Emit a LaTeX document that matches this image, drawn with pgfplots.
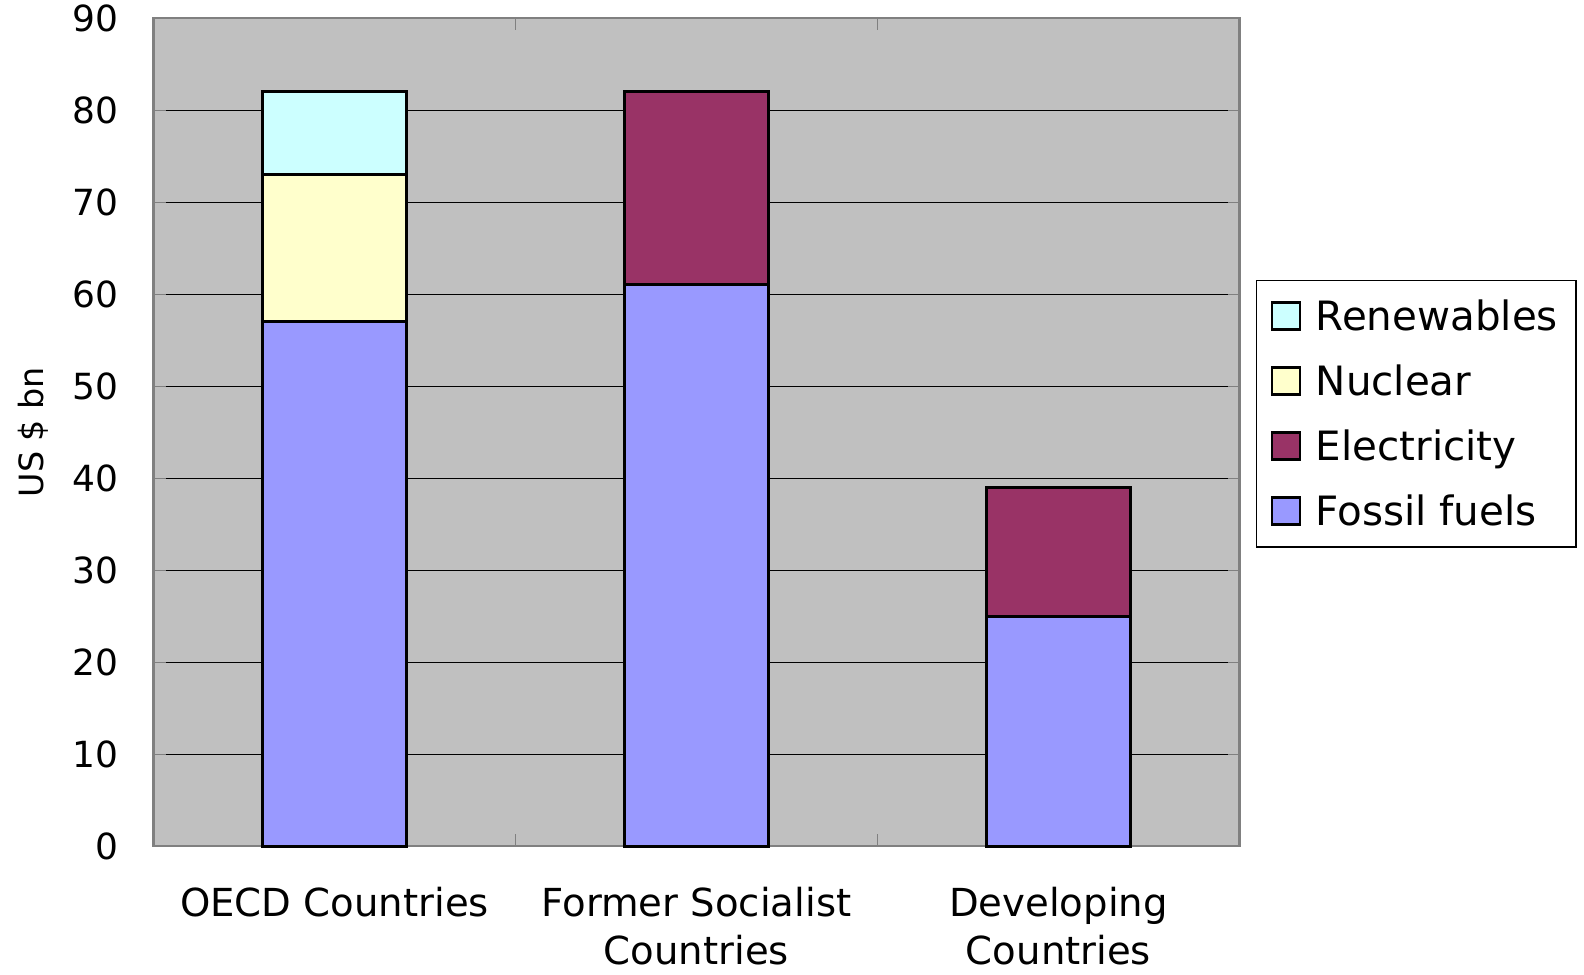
\documentclass[border=0pt]{standalone}
\usepackage{pgfplots}
\pgfplotsset{compat=1.18}
\usepackage{fontspec}
\setmainfont{DejaVu Sans}
\definecolor{plotbg}{HTML}{C0C0C0}
\definecolor{fossil}{HTML}{9999FF}
\definecolor{elec}{HTML}{993366}
\definecolor{nuclear}{HTML}{FFFFCC}
\definecolor{renew}{HTML}{CCFFFF}
\definecolor{frame}{HTML}{808080}
\begin{document}
\begin{tikzpicture}
  \begin{axis}[
    name=ax,
    scale only axis,
    width=543pt,
    height=414pt,
    ybar stacked,
    bar width=0.4,
    xmin=-0.5, xmax=2.5,
    ymin=0, ymax=90,
    ytick={0,10,...,90},
    xtick={0,1,2},
    xticklabels={OECD Countries,{Former Socialist\\Countries},{Developing\\Countries}},
    minor xtick={0.5,1.5},
    major x tick style={draw=none},
    minor tick length=6pt,
    major tick length=6pt,
    tick align=inside,
    tick style={draw=frame, line width=0.6pt},
    axis line style={draw=frame, line width=1.2pt},
    axis background/.style={fill=plotbg},
    ymajorgrids,
    grid style={black, line width=0.5pt},
    /pgf/number format/assume math mode=true,
    yticklabel style={inner sep=0pt, xshift=-17.5pt, font=\fontsize{18}{22}\selectfont},
    xticklabel style={align=center, inner sep=0pt, yshift=-20.5pt,
      font=\fontsize{19.3}{24}\selectfont},
    ylabel={US \$ bn},
    ylabel style={at={(rel axis cs:-0.1107,0.5)}, anchor=center,
      font=\fontsize{16.7}{20}\selectfont},
    legend style={at={(rel axis cs:1.0152,0.522)}, anchor=west,
      draw=black, line width=0.6pt, fill=white,
      font=\fontsize{20.2}{24}\selectfont,
      row sep=11.7pt, inner xsep=7pt, inner ysep=7.3pt,
      legend cell align=left},
    reverse legend,
    legend image code/.code={%
      \draw[#1, draw=black, line width=1.2pt] (0pt,-6.5pt) rectangle (14pt,7pt);
      \path[draw=none, fill=none] (0pt,0pt) -- (20pt,0pt);},
    every axis plot/.append style={draw=black, line width=1.5pt},
    clip=false,
  ]
    \addplot[fill=fossil] coordinates {(0,57) (1,61) (2,25)};
    \addlegendentry{Fossil fuels}
    \addplot[fill=elec] coordinates {(0,0) (1,21) (2,14)};
    \addlegendentry{Electricity}
    \addplot[fill=nuclear] coordinates {(0,16) (1,0) (2,0)};
    \addlegendentry{Nuclear}
    \addplot[fill=renew] coordinates {(0,9) (1,0) (2,0)};
    \addlegendentry{Renewables}
  \end{axis}
  \pgfresetboundingbox
  \path ([xshift=-76.75pt,yshift=-64.25pt]ax.south west) rectangle ([xshift=172.25pt,yshift=9.1pt]ax.north east);
\end{tikzpicture}
\end{document}
